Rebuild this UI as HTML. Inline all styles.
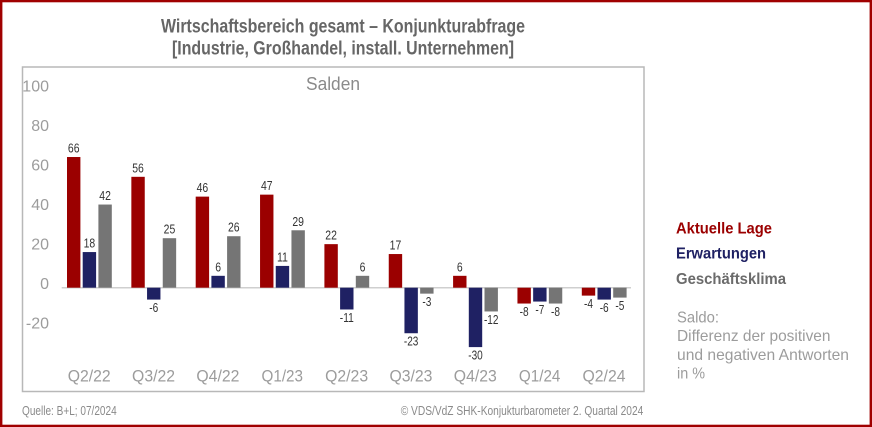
<!DOCTYPE html>
<html><head><meta charset="utf-8"><style>
html,body{margin:0;padding:0;background:#fff;}
svg{display:block;}
text{font-family:"Liberation Sans",sans-serif;}
.dl{font-size:13px;fill:#333;text-anchor:middle;}
.yl{font-size:16px;fill:#9c9c9c;text-anchor:end;}
.xl{font-size:17px;fill:#9c9c9c;text-anchor:middle;}
</style></head><body>
<svg width="872" height="427" viewBox="0 0 872 427" xmlns="http://www.w3.org/2000/svg">
<rect x="0" y="0" width="872" height="427" fill="#fff"/>
<rect x="1.2" y="1.1" width="869.6" height="424.8" fill="none" stroke="#a00000" stroke-width="2.4"/>

<!-- Title -->
<text x="343" y="32.5" text-anchor="middle" font-size="19.5" font-weight="bold" fill="#666" textLength="364" lengthAdjust="spacingAndGlyphs">Wirtschaftsbereich gesamt – Konjunkturabfrage</text>
<text x="343" y="54.5" text-anchor="middle" font-size="19.5" font-weight="bold" fill="#666" textLength="342" lengthAdjust="spacingAndGlyphs">[Industrie, Großhandel, install. Unternehmen]</text>

<!-- Frame -->
<rect x="22.5" y="67" width="621.5" height="324.5" fill="none" stroke="#b8b8b8" stroke-width="1.5"/>
<text x="333" y="90" text-anchor="middle" font-size="18" fill="#8a8a8a" textLength="54" lengthAdjust="spacingAndGlyphs">Salden</text>

<!-- Y labels -->
<text class="yl" x="49" y="91.5">100</text>
<text class="yl" x="49" y="131">80</text>
<text class="yl" x="49" y="170.5">60</text>
<text class="yl" x="49" y="210">40</text>
<text class="yl" x="49" y="249.5">20</text>
<text class="yl" x="49" y="289">0</text>
<text class="yl" x="49" y="328.5">-20</text>

<!-- zero line -->
<line x1="61.7" y1="287.7" x2="631" y2="287.7" stroke="#cfcfcf" stroke-width="1.5"/>

<!-- Bars -->
<g fill="#9b0000">
<rect x="67" y="157.02" width="13.4" height="130.68"/>
<rect x="131.35" y="176.82" width="13.4" height="110.88"/>
<rect x="195.7" y="196.62" width="13.4" height="91.08"/>
<rect x="260.05" y="194.64" width="13.4" height="93.06"/>
<rect x="324.4" y="244.14" width="13.4" height="43.56"/>
<rect x="388.75" y="254.04" width="13.4" height="33.66"/>
<rect x="453.1" y="275.82" width="13.4" height="11.88"/>
<rect x="517.45" y="287.7" width="13.4" height="15.84"/>
<rect x="581.8" y="287.7" width="13.4" height="7.92"/>
</g>
<g fill="#1f2163">
<rect x="82.7" y="252.06" width="13.4" height="35.64"/>
<rect x="147.05" y="287.7" width="13.4" height="11.88"/>
<rect x="211.4" y="275.82" width="13.4" height="11.88"/>
<rect x="275.75" y="265.92" width="13.4" height="21.78"/>
<rect x="340.1" y="287.7" width="13.4" height="21.78"/>
<rect x="404.45" y="287.7" width="13.4" height="45.54"/>
<rect x="468.8" y="287.7" width="13.4" height="59.4"/>
<rect x="533.15" y="287.7" width="13.4" height="13.86"/>
<rect x="597.5" y="287.7" width="13.4" height="11.88"/>
</g>
<g fill="#757575">
<rect x="98.4" y="204.54" width="13.4" height="83.16"/>
<rect x="162.75" y="238.2" width="13.4" height="49.5"/>
<rect x="227.1" y="236.22" width="13.4" height="51.48"/>
<rect x="291.45" y="230.28" width="13.4" height="57.42"/>
<rect x="355.8" y="275.82" width="13.4" height="11.88"/>
<rect x="420.15" y="287.7" width="13.4" height="5.94"/>
<rect x="484.5" y="287.7" width="13.4" height="23.76"/>
<rect x="548.85" y="287.7" width="13.4" height="15.84"/>
<rect x="613.2" y="287.7" width="13.4" height="9.9"/>
</g>

<!-- Data labels -->
<g>
<text class="dl" x="73.7" y="152.5" textLength="11.6" lengthAdjust="spacingAndGlyphs">66</text>
<text class="dl" x="89.4" y="247.6" textLength="11.6" lengthAdjust="spacingAndGlyphs">18</text>
<text class="dl" x="105.1" y="200" textLength="11.6" lengthAdjust="spacingAndGlyphs">42</text>

<text class="dl" x="138.05" y="172.3" textLength="11.6" lengthAdjust="spacingAndGlyphs">56</text>
<text class="dl" x="153.75" y="312.1" textLength="9" lengthAdjust="spacingAndGlyphs">-6</text>
<text class="dl" x="169.45" y="233.7" textLength="11.6" lengthAdjust="spacingAndGlyphs">25</text>

<text class="dl" x="202.4" y="192.1" textLength="11.6" lengthAdjust="spacingAndGlyphs">46</text>
<text class="dl" x="218.1" y="271.3" textLength="5.8" lengthAdjust="spacingAndGlyphs">6</text>
<text class="dl" x="233.8" y="231.7" textLength="11.6" lengthAdjust="spacingAndGlyphs">26</text>

<text class="dl" x="266.75" y="190.1" textLength="11.6" lengthAdjust="spacingAndGlyphs">47</text>
<text class="dl" x="282.45" y="261.4" textLength="11" lengthAdjust="spacingAndGlyphs">11</text>
<text class="dl" x="298.15" y="225.8" textLength="11.6" lengthAdjust="spacingAndGlyphs">29</text>

<text class="dl" x="331.1" y="239.6" textLength="11.6" lengthAdjust="spacingAndGlyphs">22</text>
<text class="dl" x="346.8" y="322" textLength="14" lengthAdjust="spacingAndGlyphs">-11</text>
<text class="dl" x="362.5" y="271.3" textLength="5.8" lengthAdjust="spacingAndGlyphs">6</text>

<text class="dl" x="395.45" y="249.5" textLength="11.6" lengthAdjust="spacingAndGlyphs">17</text>
<text class="dl" x="411.15" y="345.7" textLength="14.5" lengthAdjust="spacingAndGlyphs">-23</text>
<text class="dl" x="426.85" y="306.1" textLength="9" lengthAdjust="spacingAndGlyphs">-3</text>

<text class="dl" x="459.8" y="271.3" textLength="5.8" lengthAdjust="spacingAndGlyphs">6</text>
<text class="dl" x="475.5" y="359.6" textLength="14.5" lengthAdjust="spacingAndGlyphs">-30</text>
<text class="dl" x="491.2" y="324" textLength="14.5" lengthAdjust="spacingAndGlyphs">-12</text>

<text class="dl" x="524.15" y="316" textLength="9" lengthAdjust="spacingAndGlyphs">-8</text>
<text class="dl" x="539.85" y="314" textLength="9" lengthAdjust="spacingAndGlyphs">-7</text>
<text class="dl" x="555.55" y="316" textLength="9" lengthAdjust="spacingAndGlyphs">-8</text>

<text class="dl" x="588.5" y="308.1" textLength="9" lengthAdjust="spacingAndGlyphs">-4</text>
<text class="dl" x="604.2" y="312.1" textLength="9" lengthAdjust="spacingAndGlyphs">-6</text>
<text class="dl" x="619.9" y="310.1" textLength="9" lengthAdjust="spacingAndGlyphs">-5</text>
</g>

<!-- Category labels -->
<text class="xl" x="89.2" y="381.5" textLength="43" lengthAdjust="spacingAndGlyphs">Q2/22</text>
<text class="xl" x="153.55" y="381.5" textLength="43" lengthAdjust="spacingAndGlyphs">Q3/22</text>
<text class="xl" x="217.9" y="381.5" textLength="43" lengthAdjust="spacingAndGlyphs">Q4/22</text>
<text class="xl" x="282.25" y="381.5" textLength="41.5" lengthAdjust="spacingAndGlyphs">Q1/23</text>
<text class="xl" x="346.6" y="381.5" textLength="43" lengthAdjust="spacingAndGlyphs">Q2/23</text>
<text class="xl" x="410.95" y="381.5" textLength="43" lengthAdjust="spacingAndGlyphs">Q3/23</text>
<text class="xl" x="475.3" y="381.5" textLength="43" lengthAdjust="spacingAndGlyphs">Q4/23</text>
<text class="xl" x="539.65" y="381.5" textLength="41.5" lengthAdjust="spacingAndGlyphs">Q1/24</text>
<text class="xl" x="604" y="381.5" textLength="43" lengthAdjust="spacingAndGlyphs">Q2/24</text>

<!-- Legend -->
<text x="676" y="233.5" font-size="15.5" font-weight="bold" fill="#9b0000" textLength="96" lengthAdjust="spacingAndGlyphs">Aktuelle Lage</text>
<text x="676" y="258.5" font-size="15.5" font-weight="bold" fill="#1f2163" textLength="90" lengthAdjust="spacingAndGlyphs">Erwartungen</text>
<text x="676" y="284" font-size="15.5" font-weight="bold" fill="#6b6b6b" textLength="110" lengthAdjust="spacingAndGlyphs">Geschäftsklima</text>

<g font-size="16" fill="#9c9c9c">
<text x="677" y="322.7" textLength="42" lengthAdjust="spacingAndGlyphs">Saldo:</text>
<text x="677" y="341.2" textLength="153.5" lengthAdjust="spacingAndGlyphs">Differenz der positiven</text>
<text x="677" y="359.8" textLength="172" lengthAdjust="spacingAndGlyphs">und negativen Antworten</text>
<text x="677" y="378.3" textLength="28" lengthAdjust="spacingAndGlyphs">in %</text>
</g>

<!-- Footer -->
<text x="22" y="415" font-size="12.5" fill="#8a8a8a" textLength="94.7" lengthAdjust="spacingAndGlyphs">Quelle: B+L; 07/2024</text>
<text x="643.3" y="415" font-size="12.5" fill="#8a8a8a" text-anchor="end" textLength="242.6" lengthAdjust="spacingAndGlyphs">© VDS/VdZ SHK-Konjukturbarometer 2. Quartal 2024</text>
</svg>
</body></html>
